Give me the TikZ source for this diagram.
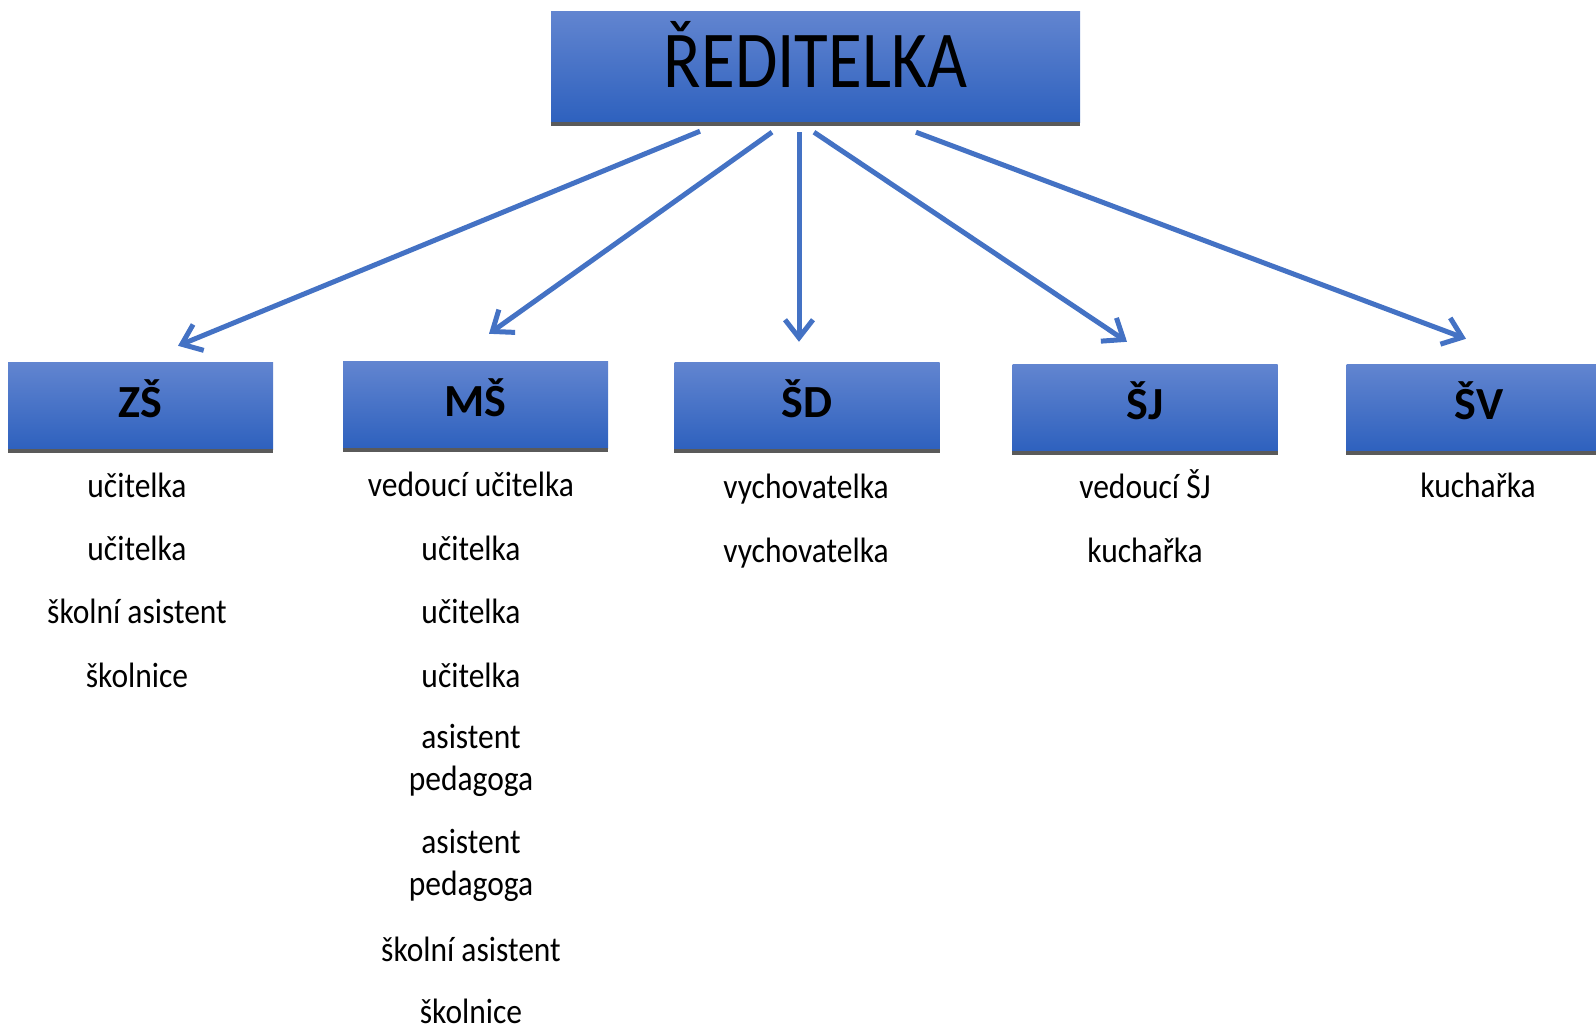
\documentclass[tikz,border=0pt]{standalone}
\usepackage{fontspec}
\setmainfont{Carlito}
\usepackage{graphicx}
\usetikzlibrary{arrows.meta}
\definecolor{boxtop}{RGB}{98,133,208}
\definecolor{boxbot}{RGB}{46,97,190}
\definecolor{linkblue}{RGB}{68,114,196}
\definecolor{rimgray}{RGB}{90,90,90}
\newcommand{\tall}[1]{\scalebox{1}[1.12]{#1}}
\newcommand{\twolines}[2]{\tall{\begin{tabular}{@{}c@{}}#1\\#2\end{tabular}}}

\begin{document}
\begin{tikzpicture}[x=1pt,y=-1pt,
    unit/.style={inner sep=0pt,minimum width=265pt,minimum height=87pt,
      text height=32pt,text depth=9pt,
      top color=boxtop,bottom color=boxbot,font=\fontsize{46}{50}\selectfont\bfseries},
    staff/.style={inner sep=0pt,text height=26.5pt,text depth=0pt,font=\fontsize{31.5}{37.5}\selectfont},
    pair/.style={inner sep=0pt,font=\fontsize{31.5}{37.5}\selectfont},
    link/.style={linkblue,line width=5pt,-{Straight Barb[length=18pt,width=28pt,line width=5pt]}},
    rim/.style={rimgray,line width=4pt}]
  \useasboundingbox (0,0) rectangle (1596,1029);

  \node[unit,minimum width=529pt,minimum height=111pt,text height=50pt,text depth=9pt,
    font=\fontsize{69}{72}\selectfont]
    (boss) at (815.5,66.5) {\scalebox{1}[1.17]{ŘEDITELKA}};
  \draw[rim] ([yshift=-2pt]boss.south west) -- ([yshift=-2pt]boss.south east);

  \node[unit] (zs) at (140.5,405.5) {ZŠ};
  \node[unit] (ms) at (475.5,404.5) {MŠ};
  \node[unit] (sd) at (807,405.5) {ŠD};
  \node[unit] (sj) at (1145,407.5) {ŠJ};
  \node[unit] (sv) at (1479,407.5) {ŠV};
  \foreach \u in {zs,ms,sd,sj,sv}
    \draw[rim] ([yshift=-2pt]\u.south west) -- ([yshift=-2pt]\u.south east);

  \draw[link] ([xshift=-115.5pt,yshift=-9pt]boss.south) -- ([xshift=37.5pt,yshift=16pt]zs.north);
  \draw[link] ([xshift=-43.5pt,yshift=-10pt]boss.south) -- ([xshift=13.5pt,yshift=27pt]ms.north);
  \draw[link] ([xshift=-16.5pt,yshift=-10pt]boss.south) -- ([xshift=-8pt,yshift=20pt]sd.north);
  \draw[link] ([xshift=-1.5pt,yshift=-10pt]boss.south) -- ([xshift=-18pt,yshift=22pt]sj.north);
  \draw[link] ([xshift=100.5pt,yshift=-10pt]boss.south) -- ([xshift=-13pt,yshift=25pt]sv.north);

  \node[staff] (zs1) at (137,484.5) {\tall{učitelka}};
  \node[staff] (zs2) at (137,547.5) {\tall{učitelka}};
  \node[staff] (zs3) at (137,610) {\tall{školní asistent}};
  \node[staff] (zs4) at (137,674) {\tall{školnice}};

  \node[staff] (ms1) at (471,483.5) {\tall{vedoucí učitelka}};
  \node[staff] (ms2) at (471,547.5) {\tall{učitelka}};
  \node[staff] (ms3) at (471,610) {\tall{učitelka}};
  \node[staff] (ms4) at (471,674) {\tall{učitelka}};
  \node[pair] (ms5) at (471,761) {\twolines{asistent}{pedagoga}};
  \node[pair] (ms6) at (471,866.5) {\twolines{asistent}{pedagoga}};
  \node[staff] (ms7) at (471,948.5) {\tall{školní asistent}};
  \node[staff] (ms8) at (471,1010) {\tall{školnice}};

  \node[staff] (sd1) at (806,485.5) {\tall{vychovatelka}};
  \node[staff] (sd2) at (806,549.5) {\tall{vychovatelka}};

  \node[staff] (sj1) at (1145,485.5) {\tall{vedoucí ŠJ}};
  \node[staff] (sj2) at (1145,549.5) {\tall{kuchařka}};

  \node[staff] (sv1) at (1478,484.5) {\tall{kuchařka}};
\end{tikzpicture}
\end{document}
